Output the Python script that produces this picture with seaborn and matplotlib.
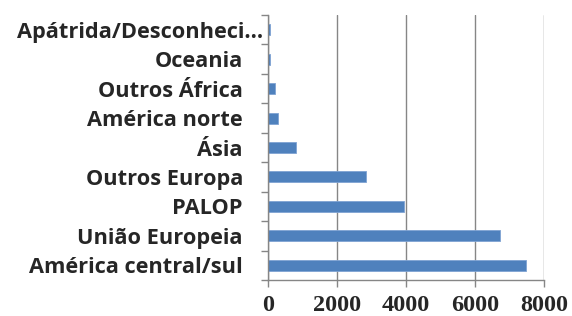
import matplotlib
matplotlib.use("Agg")
import matplotlib.pyplot as plt
import matplotlib.transforms as mtransforms
import seaborn as sns
import pandas as pd
import numpy as np

categories = ["Apátrida/Desconheci...", "Oceania", "Outros África", "América norte", "Ásia",
              "Outros Europa", "PALOP", "União Europeia", "América central/sul"]
values = [60, 50, 200, 300, 810, 2830, 3940, 6730, 7490]
xticks = [0, 2000, 4000, 6000, 8000]

df = pd.DataFrame({"cat": categories, "val": values})

sns.set_theme(style="white")
fig = plt.figure(figsize=(5.72, 3.16), dpi=100)
ax = fig.add_axes([0.4685, 1 - 280 / 316, 0.951 - 0.4685, (280 - 15) / 316])

sns.barplot(data=df, y="cat", x="val", order=categories, orient="h",
            color="#4F81BD", width=0.37, saturation=1, ax=ax,
            edgecolor="#7FA3D3", linewidth=0.6)

ax.set_xlim(0, 8000)
ax.set_ylim(len(categories) - 0.5, -0.5)
ax.set_xticks(xticks)
ax.set_xticklabels([str(t) for t in xticks], fontfamily="Liberation Serif",
                   fontweight="bold", fontsize=17.5)
ax.set_xlabel("")
ax.set_ylabel("")
ax.grid(axis="x", color="#868686", linewidth=1.0)
ax.set_axisbelow(True)
for s in ["top", "right"]:
    ax.spines[s].set_visible(False)
for s in ["left", "bottom"]:
    ax.spines[s].set_color("#868686")
    ax.spines[s].set_linewidth(1.0)

ax.tick_params(axis="x", length=5, color="#868686", width=1.0, bottom=True, pad=5.5)
ax.tick_params(axis="y", which="major", length=0, pad=18)
ax.set_yticks(np.arange(-0.5, len(categories), 1.0), minor=True)
ax.tick_params(axis="y", which="minor", length=5, color="#868686", width=1.0, left=True)
ax.set_yticklabels(categories, fontfamily="Open Sans", fontweight="bold", fontsize=15.7)

# first label (truncated one) sits closer to the axis
lab = ax.get_yticklabels()[0]
lab.set_transform(lab.get_transform() + mtransforms.ScaledTranslation(20 / 100, 0, fig.dpi_scale_trans))

fig.savefig("out.png", dpi=100)
